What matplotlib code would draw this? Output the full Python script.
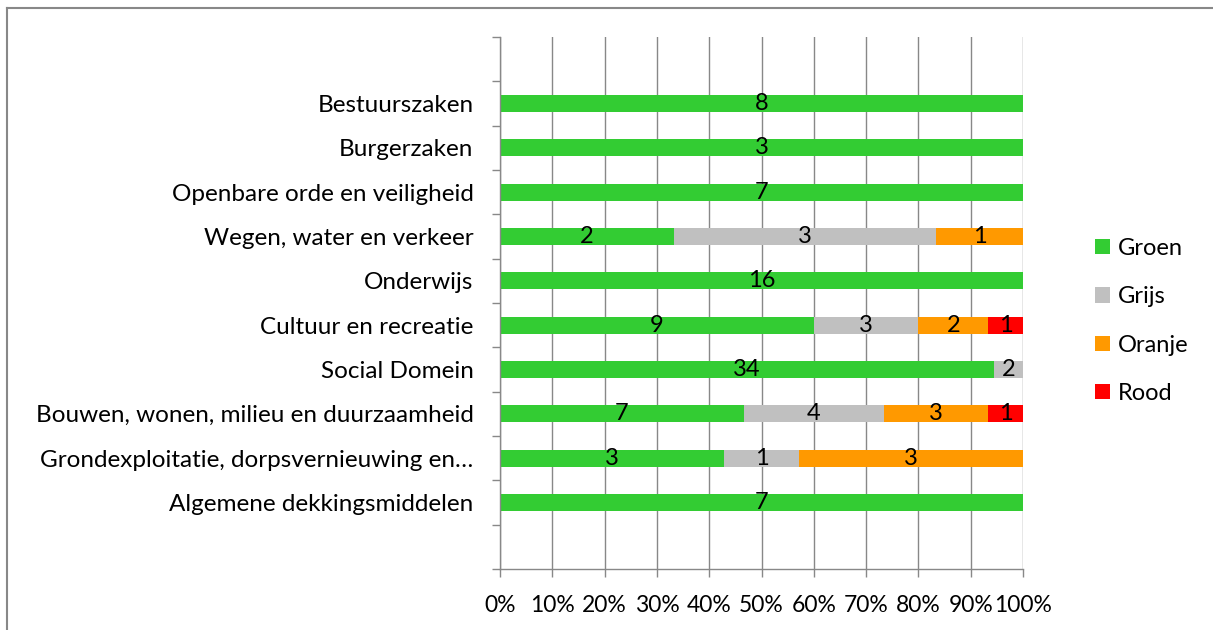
import matplotlib.pyplot as plt
import matplotlib.lines as mlines
import numpy as np

plt.rcParams['font.family'] = ['Lato', 'DejaVu Sans']

categories = ["Bestuurszaken", "Burgerzaken", "Openbare orde en veiligheid",
              "Wegen, water en verkeer", "Onderwijs", "Cultuur en recreatie",
              "Social Domein", "Bouwen, wonen, milieu en duurzaamheid",
              "Grondexploitatie, dorpsvernieuwing en…", "Algemene dekkingsmiddelen"]
groen = [8, 3, 7, 2, 16, 9, 34, 7, 3, 7]
grijs = [0, 0, 0, 3, 0, 3, 2, 4, 1, 0]
oranje = [0, 0, 0, 1, 0, 2, 0, 3, 3, 0]
rood = [0, 0, 0, 0, 0, 1, 0, 1, 0, 0]

series = [("Groen", groen, "#33CC33"), ("Grijs", grijs, "#C0C0C0"),
          ("Oranje", oranje, "#FF9900"), ("Rood", rood, "#FF0000")]

fs = 17
fig = plt.figure(figsize=(12.13, 6.30), dpi=100)
ax = fig.add_axes([500 / 1213, 61 / 630, 523 / 1213, 532 / 630])

totals = np.array(groen) + np.array(grijs) + np.array(oranje) + np.array(rood)
ypos = np.arange(1, len(categories) + 1)
left = np.zeros(len(categories))
for name, vals, color in series:
    share = np.array(vals) / totals
    ax.barh(ypos, share, left=left, height=0.38, color=color, label=name, zorder=2)
    for y, l, s, v in zip(ypos, left, share, vals):
        if v > 0:
            ax.text(l + s / 2, y, str(v), ha='center', va='center', fontsize=fs, zorder=3)
    left = left + share

ax.set_xlim(0, 1)
ax.set_ylim(len(categories) + 1.5, -0.5)
ax.set_xticks(np.arange(0, 1.01, 0.1))
ax.set_xticklabels([f"{int(round(t * 100))}%" for t in np.arange(0, 1.01, 0.1)], fontsize=16.5)
ax.set_yticks(ypos)
ax.set_yticklabels(categories, fontsize=17.5)
ax.set_yticks(np.arange(-0.5, len(categories) + 2, 1.0), minor=True)
ax.tick_params(axis='y', which='major', length=0, pad=19)
ax.tick_params(axis='y', which='minor', length=6, color='#888888', width=1)
ax.tick_params(axis='x', length=6, color='#888888', width=1, pad=13)

ax.grid(axis='x', color='#888888', linewidth=1, zorder=0)
ax.set_axisbelow(True)
for s in ['top', 'right']:
    ax.spines[s].set_visible(False)
for s in ['left', 'bottom']:
    ax.spines[s].set_color('#888888')
    ax.spines[s].set_linewidth(1)

fig.legend(loc='center left', bbox_to_anchor=(1095 / 1213, 1 - 321 / 630),
           frameon=False, fontsize=fs, handlelength=0.62, handleheight=0.62,
           labelspacing=1.16, handletextpad=0.35, borderpad=0, borderaxespad=0)

# border of the chart area (left and top edges visible)
fig.add_artist(mlines.Line2D([7 / 1213, 7 / 1213], [0, 1 - 8 / 630], color='#888888', linewidth=1.5))
fig.add_artist(mlines.Line2D([7 / 1213, 1], [1 - 8 / 630, 1 - 8 / 630], color='#888888', linewidth=1.5))

fig.savefig('out.png', dpi=100)
